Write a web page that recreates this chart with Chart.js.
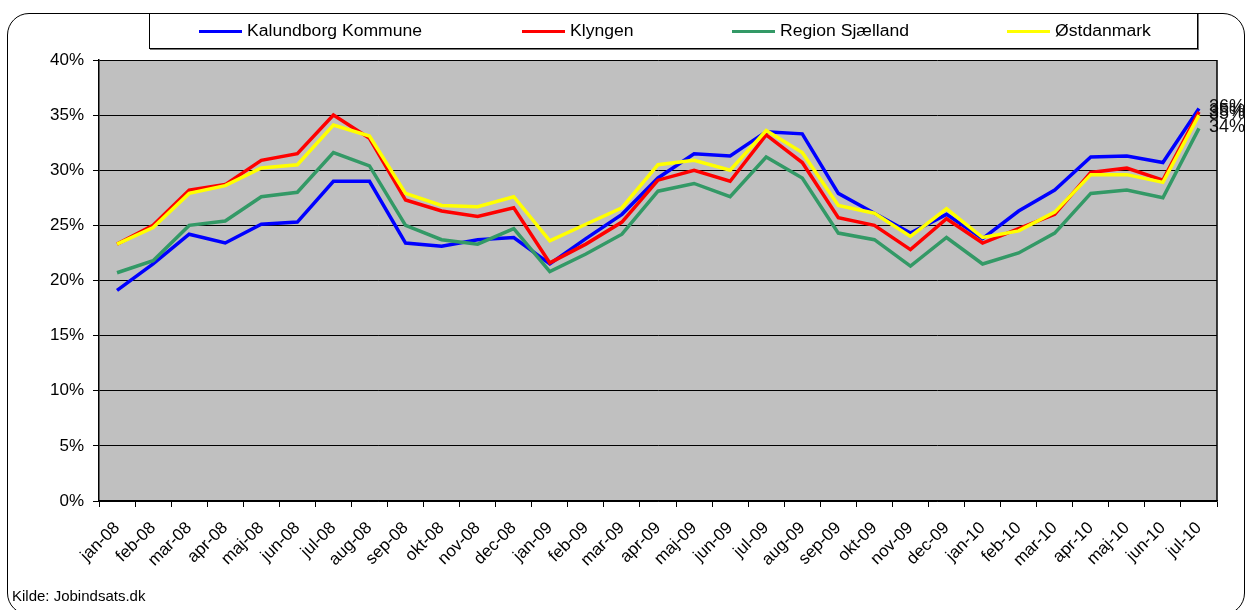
<!DOCTYPE html>
<html lang="da">
<head>
<meta charset="utf-8">
<title>Ledighed</title>
<script src="https://cdn.jsdelivr.net/npm/chart.js@4/dist/chart.umd.min.js"></script>
<style>
  body { margin: 0; background: #fff; font-family: "Liberation Sans", Arial, sans-serif; }
  #wrap { position: relative; width: 1248px; height: 610px; overflow: hidden; }
  #frame { position: absolute; left: 7px; top: 13px; width: 1236px; height: 600px;
           border: 1.5px solid #000; border-radius: 22px; }
  #chart { position: absolute; left: 0; top: 0; }
  #legend { position: absolute; left: 149px; top: 13px; width: 1047px; height: 34px;
            background: #fff; border: 1px solid #000; box-shadow: 1px 1px 0 #777; }
  .item { position: absolute; top: 0; height: 34px; }
  .item i { position: absolute; top: 16px; width: 43px; height: 3px; }
  .item span { position: absolute; top: 8px; left: 48px; white-space: nowrap; font-size: 16px;
               transform: scaleX(1.1); transform-origin: left center; color: #000; }
  #kilde { position: absolute; left: 12px; top: 587px; font-size: 15px; color: #000; }
</style>
</head>
<body>
<div id="wrap">
  <div id="frame"></div>
  <canvas id="chart" width="1248" height="610"></canvas>
  <div id="legend"></div>
  <div id="kilde">Kilde: Jobindsats.dk</div>
</div>
<script>
// ================= DATA =================
const maaneder = ['jan-08','feb-08','mar-08','apr-08','maj-08','jun-08','jul-08','aug-08','sep-08','okt-08','nov-08','dec-08',
  'jan-09','feb-09','mar-09','apr-09','maj-09','jun-09','jul-09','aug-09','sep-09','okt-09','nov-09','dec-09',
  'jan-10','feb-10','mar-10','apr-10','maj-10','jun-10','jul-10'];

const kalundborg = [19.1,21.5,24.2,23.4,25.1,25.3,29.0,29.0,23.4,23.1,23.7,23.9,21.5,23.8,26.0,29.3,31.5,31.3,33.5,33.3,27.9,26.1,24.3,26.0,23.8,26.3,28.2,31.2,31.3,30.7,35.6];
const klyngen    = [23.3,25.0,28.2,28.7,30.9,31.5,35.0,32.9,27.3,26.3,25.8,26.6,21.6,23.3,25.3,29.1,30.0,29.0,33.2,30.7,25.7,25.0,22.8,25.6,23.4,24.7,26.0,29.8,30.2,29.1,35.3];
const regionSj   = [20.7,21.8,25.0,25.4,27.6,28.0,31.6,30.4,25.0,23.7,23.3,24.7,20.8,22.4,24.2,28.1,28.8,27.6,31.2,29.3,24.3,23.7,21.3,23.9,21.5,22.5,24.3,27.9,28.2,27.5,33.8];
const oestdanmark= [23.3,24.8,27.9,28.6,30.2,30.5,34.1,33.1,27.9,26.8,26.7,27.6,23.6,25.1,26.6,30.5,30.9,30.0,33.6,31.6,26.8,26.1,24.0,26.5,23.9,24.5,26.2,29.6,29.6,28.9,35.0];

const serieNavne = ['Kalundborg Kommune', 'Klyngen', 'Region Sjælland', 'Østdanmark'];
const serieFarver = ['#0000ff', '#ff0000', '#339966', '#ffff00'];
const yTicks = [0, 5, 10, 15, 20, 25, 30, 35, 40];

// ================= LEGENDE (HTML) =================
const legendPos = [49, 372, 582, 857];
const legend = document.getElementById('legend');
serieNavne.forEach((navn, i) => {
  const d = document.createElement('div');
  d.className = 'item';
  d.style.left = legendPos[i] + 'px';
  d.innerHTML = `<i style="background:${serieFarver[i]}"></i><span>${navn}</span>`;
  legend.appendChild(d);
});

// ================= PLUGINS =================
const plotBaggrund = {
  id: 'plotBaggrund',
  beforeDraw(chart) {
    const { ctx, chartArea: a } = chart;
    ctx.save();
    ctx.fillStyle = '#c0c0c0';
    ctx.fillRect(a.left, a.top, a.right - a.left, a.bottom - a.top);
    ctx.restore();
  },
  afterDraw(chart) {
    const { ctx, chartArea: a } = chart;
    ctx.save();
    ctx.strokeStyle = '#000';
    ctx.lineWidth = 1.5;
    ctx.beginPath();
    ctx.moveTo(a.right, a.top);
    ctx.lineTo(a.right, a.bottom);
    ctx.stroke();
    ctx.restore();
  }
};

// procent-etiket ved sidste punkt
const slutEtiketter = {
  id: 'slutEtiketter',
  afterDatasetsDraw(chart) {
    const { ctx } = chart;
    ctx.save();
    ctx.font = '18px "Liberation Sans", Arial, sans-serif';
    ctx.fillStyle = '#111';
    ctx.textAlign = 'left';
    ctx.textBaseline = 'middle';
    chart.data.datasets.forEach((ds, i) => {
      const meta = chart.getDatasetMeta(i);
      const last = meta.data[meta.data.length - 1];
      const v = ds.data[ds.data.length - 1];
      ctx.fillText(Math.round(v) + '%', last.x + 10, last.y - 1);
    });
    ctx.restore();
  }
};

// ================= GRAF =================
const serier = [kalundborg, klyngen, regionSj, oestdanmark];
const ctx = document.getElementById('chart').getContext('2d');
new Chart(ctx, {
  type: 'line',
  data: {
    labels: maaneder,
    datasets: serier.map((data, i) => ({
      label: serieNavne[i],
      data: data,
      borderColor: serieFarver[i],
      backgroundColor: serieFarver[i],
      borderWidth: 3.5,
      pointRadius: 0,
      tension: 0,
      order: 3 - i
    }))
  },
  options: {
    responsive: false,
    animation: false,
    devicePixelRatio: 1,
    layout: { padding: { top: 60, right: 31, left: 0, bottom: 0 } },
    plugins: { legend: { display: false }, title: { display: false }, tooltip: { enabled: false } },
    scales: {
      x: {
        offset: true,
        grid: { offset: true, drawOnChartArea: false, color: '#000', tickLength: 6 },
        border: { color: '#000', width: 1.5 },
        ticks: {
          autoSkip: false, maxRotation: 45, minRotation: 45, padding: 11, color: '#000',
          font: { family: '"Liberation Sans", Arial, sans-serif', size: 17 }
        },
        afterFit(scale) { scale.height = 109; }
      },
      y: {
        min: 0, max: 40,
        afterBuildTicks(scale) { scale.ticks = yTicks.map(v => ({ value: v })); },
        grid: { color: '#000', lineWidth: 1, tickLength: 6 },
        border: { color: '#000', width: 1.5 },
        ticks: {
          padding: 9, color: '#000',
          font: { family: '"Liberation Sans", Arial, sans-serif', size: 17 },
          callback: v => v + '%'
        },
        afterFit(scale) { scale.width = 99; }
      }
    }
  },
  plugins: [plotBaggrund, slutEtiketter]
});
</script>
</body>
</html>
